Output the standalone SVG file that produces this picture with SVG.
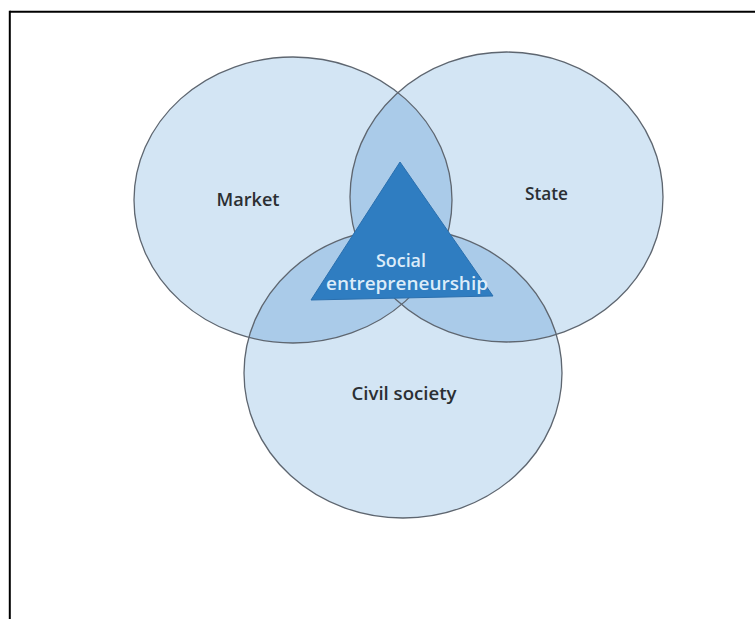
<svg xmlns="http://www.w3.org/2000/svg" xmlns:xlink="http://www.w3.org/1999/xlink" width="755" height="619" viewBox="0 0 755 619">
<style>
.single{fill:#d3e5f4;stroke:none}
.lens{fill:#aacbe9;stroke:none}
.outline{fill:none;stroke:#5e6670;stroke-width:1.3}
.lbl{font-family:"Open Sans","Liberation Sans",sans-serif;font-weight:600;font-size:17.5px;fill:#2b2f33;text-anchor:middle}
.tri-lbl{font-family:"Open Sans","Liberation Sans",sans-serif;font-weight:600;font-size:18px;fill:#dcecf9;text-anchor:middle}
.frame{stroke:#000;stroke-width:2;fill:none}
</style>
<defs>
<ellipse id="eMarket" cx="293" cy="200" rx="159" ry="143"/>
<ellipse id="eState" cx="506.5" cy="197" rx="156.5" ry="145"/>
<ellipse id="eCivil" cx="403" cy="373" rx="159" ry="145"/>
<clipPath id="cMarket"><use xlink:href="#eMarket"/></clipPath>
<clipPath id="cState"><use xlink:href="#eState"/></clipPath>
</defs>
<rect width="755" height="619" fill="#fff"/>
<g id="frame">
<line class="frame" x1="9.8" y1="11.8" x2="755" y2="11.8"/>
<line class="frame" x1="9.8" y1="10.8" x2="9.8" y2="619"/>
</g>
<g id="fills">
<use xlink:href="#eMarket" class="single"/>
<use xlink:href="#eState" class="single"/>
<use xlink:href="#eCivil" class="single"/>
<use xlink:href="#eState" class="lens" clip-path="url(#cMarket)"/>
<use xlink:href="#eCivil" class="lens" clip-path="url(#cMarket)"/>
<use xlink:href="#eCivil" class="lens" clip-path="url(#cState)"/>
</g>
<g id="market">
<use xlink:href="#eMarket" class="outline"/>
<text class="lbl" x="248" y="206" textLength="63" lengthAdjust="spacingAndGlyphs">Market</text>
</g>
<g id="state">
<use xlink:href="#eState" class="outline"/>
<text class="lbl" x="546.5" y="199.5" textLength="43" lengthAdjust="spacingAndGlyphs">State</text>
</g>
<g id="civil-society">
<use xlink:href="#eCivil" class="outline"/>
<text class="lbl" x="404" y="400" textLength="105" lengthAdjust="spacingAndGlyphs">Civil society</text>
</g>
<g id="connectors"></g>
<g id="social-entrepreneurship">
<polygon points="400,162 311,300 493,296" fill="#2f7dc1" stroke="#2a6fae" stroke-width="1"/>
<text class="tri-lbl" x="401" y="266.5" textLength="50" lengthAdjust="spacingAndGlyphs">Social</text>
<text class="tri-lbl" x="407" y="289.5" textLength="162" lengthAdjust="spacingAndGlyphs">entrepreneurship</text>
</g>
</svg>
